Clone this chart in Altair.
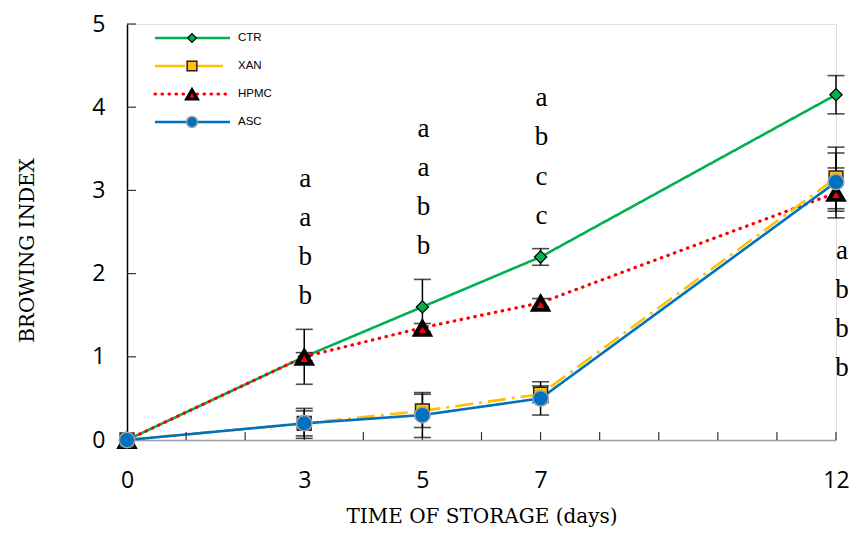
import altair as alt
import pandas as pd

days = [0, 3, 5, 7, 12]
series = ["CTR", "XAN", "HPMC", "ASC"]
ctr = [0.0, 1.0, 1.6, 2.2, 4.15]
ctr_err = [0.0, 0.33, 0.33, 0.1, 0.23]
xan = [0.0, 0.2, 0.35, 0.55, 3.15]
xan_err = [0.0, 0.15, 0.2, 0.1, 0.37]
hpmc = [0.0, 1.0, 1.35, 1.65, 2.97]
hpmc_err = [0.0, 0.05, 0.05, 0.05, 0.3]
asc = [0.0, 0.2, 0.3, 0.5, 3.1]
asc_err = [0.0, 0.18, 0.27, 0.2, 0.35]

letter_x = [3] * 4 + [5] * 4 + [7] * 4 + [12] * 4
letter_y = [3.04, 2.57, 2.10, 1.64,
            3.64, 3.17, 2.70, 2.23,
            4.01, 3.54, 3.07, 2.60,
            2.18, 1.71, 1.24, 0.77]
letters = list("aabb") + list("aabb") + list("abcc") + list("abbb")

x_ticks = list(range(0, 13))
x_labels = [0, 3, 5, 7, 12]
y_ticks = [0, 1, 2, 3, 4, 5]

colors = {"CTR": "#00B050", "XAN": "#FFC000", "HPMC": "#FF0000", "ASC": "#0070C0"}
dashes = {"CTR": [1, 0], "XAN": [18, 6, 3, 6], "HPMC": [0.5, 6.5], "ASC": [1, 0]}

vals = {"CTR": (ctr, ctr_err), "XAN": (xan, xan_err), "HPMC": (hpmc, hpmc_err), "ASC": (asc, asc_err)}
rows = []
for s in series:
    v, e = vals[s]
    for d, y, er in zip(days, v, e):
        rows.append({"series": s, "day": d, "value": y, "lo": y - er, "hi": y + er, "err": er})
df = pd.DataFrame(rows)

xs = alt.Scale(domain=[0, 12], nice=False, zero=False)
ys = alt.Scale(domain=[0, 5], nice=False)

label_expr = "indexof([0,3,5,7,12], datum.value) >= 0 ? datum.label : ''"

X = alt.X("day:Q", scale=xs, axis=alt.Axis(
    values=x_ticks, labelExpr=label_expr, format="d", ticks=False, grid=False,
    domainColor="#a0a0a0", domainWidth=1.5, labelFont="Open Sans", labelFontSize=23,
    labelColor="black", labelPadding=29, labelFlush=False,
    title="TIME OF STORAGE (days)", titleFont="DejaVu Serif", titleFontSize=20,
    titleFontWeight="normal", titleColor="black", titleY=66, titleAnchor="middle"))
Y = alt.Y("value:Q", scale=ys, axis=alt.Axis(
    values=y_ticks, format="d", ticks=False, grid=False, domainColor="black", domainWidth=1.5,
    labelFont="Open Sans", labelFontSize=23, labelColor="black", labelPadding=22,
    title="BROWING INDEX", titleFont="DejaVu Serif", titleFontSize=20,
    titleFontWeight="normal", titleColor="black", titlePadding=54, titleY=226))

base = alt.Chart(df)

layers = []
# tick marks (inward)
xt = alt.Chart(pd.DataFrame({"t": x_ticks[1:]})).mark_rule(color="#333333", strokeWidth=1.2).encode(
    x=alt.X("t:Q", scale=xs), y=alt.value(416), y2=alt.value(408))
yt = alt.Chart(pd.DataFrame({"t": y_ticks[1:]})).mark_rule(color="#333333", strokeWidth=1.2).encode(
    y=alt.Y("t:Q", scale=ys), x=alt.value(0), x2=alt.value(9))

for s in ["CTR", "HPMC", "XAN", "ASC"]:
    sub = base.transform_filter(alt.datum.series == s)
    line_kw = dict(color=colors[s], strokeWidth=2.6, strokeDash=dashes[s])
    if s == "HPMC":
        line_kw.update(strokeCap="round", strokeWidth=3.2)
    layers.append(sub.mark_line(**line_kw).encode(x=X, y=Y))
layers += [xt, yt]

# error bars
eb = base.transform_filter(alt.datum.err > 0)
layers.append(eb.mark_rule(color="black", strokeWidth=1.5).encode(
    x=alt.X("day:Q", scale=xs), y=alt.Y("lo:Q", scale=ys), y2="hi:Q"))
layers.append(eb.mark_tick(color="black", orient="horizontal", size=17, thickness=1.6).encode(
    x=alt.X("day:Q", scale=xs), y=alt.Y("lo:Q", scale=ys)))
layers.append(eb.mark_tick(color="black", orient="horizontal", size=17, thickness=1.6).encode(
    x=alt.X("day:Q", scale=xs), y=alt.Y("hi:Q", scale=ys)))

marker_kw = {
    "CTR": dict(shape="diamond", fill=colors["CTR"], stroke="black", strokeWidth=1.2, size=150),
    "HPMC": dict(shape="triangle-up", fill="black", stroke="black", strokeWidth=1.5, size=360),
    "XAN": dict(shape="square", fill=colors["XAN"], stroke="#222222", strokeWidth=1.5, size=190),
    "ASC": dict(shape="circle", fill=colors["ASC"], stroke="#a0a0a0", strokeWidth=1.5, size=240),
}
for s in ["CTR", "HPMC", "XAN", "ASC"]:
    sub = base.transform_filter(alt.datum.series == s)
    layers.append(sub.mark_point(filled=True, opacity=1, **marker_kw[s]).encode(
        x=alt.X("day:Q", scale=xs), y=alt.Y("value:Q", scale=ys)))
    if s == "HPMC":
        layers.append(sub.mark_point(filled=True, opacity=1, shape="triangle-up", fill="#FF0000",
                                     size=55, yOffset=2).encode(
            x=alt.X("day:Q", scale=xs), y=alt.Y("value:Q", scale=ys)))

# significance letters
ldf = pd.DataFrame({"day": letter_x, "y": letter_y, "letter": letters})
lbase = alt.Chart(ldf)
layers.append(lbase.transform_filter(alt.datum.day < 12).mark_text(
    font="Liberation Serif", fontSize=27, color="black", baseline="alphabetic", align="center", dx=1).encode(
    x=alt.X("day:Q", scale=xs), y=alt.Y("y:Q", scale=ys), text="letter:N"))
layers.append(lbase.transform_filter(alt.datum.day == 12).mark_text(
    font="Liberation Serif", fontSize=27, color="black", baseline="alphabetic", align="center", dx=6).encode(
    x=alt.X("day:Q", scale=xs), y=alt.Y("y:Q", scale=ys), text="letter:N"))

# manual legend
leg_y = {"CTR": 14, "XAN": 42, "HPMC": 70, "ASC": 98}
for s in series:
    yy = leg_y[s]
    kw = dict(color=colors[s], strokeWidth=2.6, strokeDash=dashes[s])
    if s == "XAN":
        kw["strokeDash"] = [30, 8]
    if s == "HPMC":
        kw.update(strokeCap="round", strokeWidth=3.2)
    layers.append(alt.Chart(pd.DataFrame({"s": [s]})).mark_rule(**kw).encode(
        x=alt.value(28), x2=alt.value(103), y=alt.value(yy)))
    mk = dict(marker_kw[s])
    mk["size"] = mk["size"] * 0.5
    layers.append(alt.Chart(pd.DataFrame({"s": [s]})).mark_point(filled=True, opacity=1, **mk).encode(
        x=alt.value(65), y=alt.value(yy)))
    if s == "HPMC":
        layers.append(alt.Chart(pd.DataFrame({"s": [s]})).mark_point(
            filled=True, opacity=1, shape="triangle-up", fill="#FF0000", size=25).encode(
            x=alt.value(65), y=alt.value(yy + 1.5)))
    layers.append(alt.Chart(pd.DataFrame({"s": [s]})).mark_text(
        font="Liberation Sans", fontSize=11.5, color="black", align="left", baseline="middle").encode(
        x=alt.value(111), y=alt.value(yy), text="s:N"))

chart = alt.layer(*layers).properties(
    width=709, height=416,
    autosize=alt.AutoSizeParams(type="none"),
    padding={"left": 119, "top": 16, "right": 13, "bottom": 96},
).configure_view(stroke=None).configure(background="white")

chart.save("out.html", embed_options={"renderer": "svg", "actions": False})
